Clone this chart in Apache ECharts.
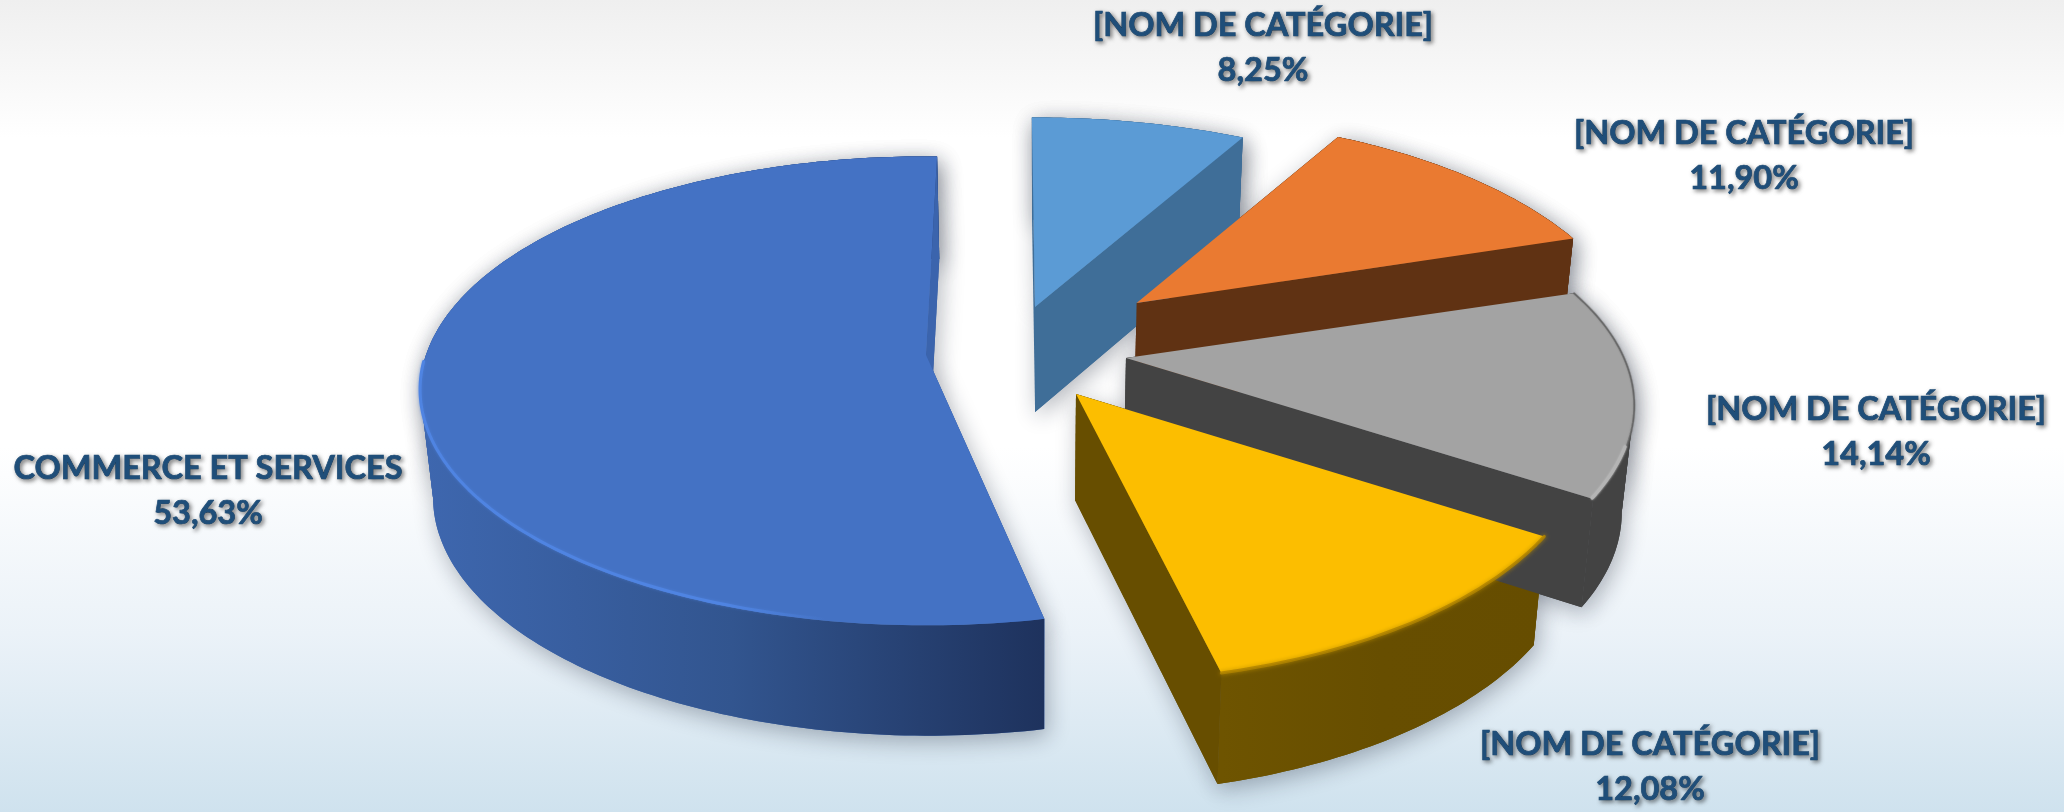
<!DOCTYPE html>
<html lang="fr">
<head>
<meta charset="utf-8">
<title>Répartition</title>
<style>html,body{margin:0;padding:0;background:#fff}#c{width:2064px;height:812px}</style>
<script src="https://cdn.jsdelivr.net/npm/echarts@6/dist/echarts.min.js"></script>
</head>
<body>
<div id="c"></div>
<script>
// ---------- data ----------
const categories = ['COMMERCE ET SERVICES', '[NOM DE CATÉGORIE]', '[NOM DE CATÉGORIE]', '[NOM DE CATÉGORIE]', '[NOM DE CATÉGORIE]'];
const values = [53.63, 8.25, 11.90, 14.14, 12.08];

// ---------- styles ----------
const topColors = ['#4472c4', '#5b9bd5', '#ea7a31', '#a3a3a3', '#fcbe00'];
const cutColors = ['#3b64ad', '#3f6e98', '#603213', '#434343', '#674e00'];
const rimStops = [
  ['#3e67af', '#32558f', '#1e325d'],
  ['#3f6e98', '#3f6e98', '#3f6e98'],
  ['#603213', '#603213', '#603213'],
  ['#434343', '#434343', '#434343'],
  ['#6e5400', '#674e00', '#664d00']
];

// ---------- layout (exploded perspective pie, one frame per slice) ----------
const START_ANGLE = 166.9;
const VANISH_X = 1040;
const frames = [
  { ax: 926,  ay: 355, rx: 500, ry: 229, k: 0.153, twist: 1.5 },
  { ax: 1035, ay: 307, rx: 512, ry: 234, k: 0.235, twist: -0.4 },
  { ax: 1136.6, ay: 303, rx: 490, ry: 230, k: 0.235, twist: 0 },
  { ax: 1126, ay: 358, rx: 498, ry: 228, k: 0.2, twist: 0 },
  { ax: 1076, ay: 394, rx: 505, ry: 240, k: 0.17, twist: -0.8 }
];
const labelCenters = [[208, 491], [1263, 48], [1744, 156], [1876, 432], [1650, 767]];

const total = values.reduce((a, b) => a + b, 0);
function sliceAngles(i) {
  let a = START_ANGLE;
  for (let j = 0; j < i; j++) a += values[j] / total * 360;
  const b = a + values[i] / total * 360;
  return [a + frames[i].twist, b + frames[i].twist];
}
function topPoint(f, deg) {
  const t = deg * Math.PI / 180, u = Math.sin(t), v = -Math.cos(t), s = 1 / (1 - f.k * v);
  return [f.ax + f.rx * u * s, f.ay + f.ry * v * s];
}
function lower(p) { return [VANISH_X + (p[0] - VANISH_X) * 0.979, p[1] * 1.0165 + 100]; }
function arc(f, a, b) {
  const pts = [], n = Math.max(2, Math.ceil(Math.abs(b - a)));
  for (let i = 0; i <= n; i++) pts.push(topPoint(f, a + (b - a) * i / n));
  return pts;
}
function band(pts) { return pts.concat(pts.slice().reverse().map(lower)); }
function faces(i) {
  const f = frames[i], [a, b] = sliceAngles(i), apex = [f.ax, f.ay];
  const top = arc(f, a, b);
  const pA = top[0], pB = top[top.length - 1];
  // the rim band folds at the silhouette: split it there so both halves fill solid
  const cx = f.ax;
  let split = 0, best = -1;
  top.forEach((p, j) => { const d = Math.abs(p[0] - cx); if (d > best) { best = d; split = j; } });
  const rims = (split > 0 && split < top.length - 1)
    ? [band(top.slice(0, split + 1)), band(top.slice(split))]
    : [band(top)];
  const xs = top.map(p => p[0]);
  return {
    f, a, b, top, rims,
    minX: Math.min.apply(null, xs), maxX: Math.max.apply(null, xs),
    topFace: [apex].concat(top),
    cutEnd: [apex, pB, lower(pB), lower(apex)],
    cutStart: [apex, pA, lower(pA), lower(apex)]
  };
}
function horizGlobal(stops, x0, x1) {
  return { type: 'linear', global: true, x: x0, y: 0, x2: x1, y2: 0,
    colorStops: stops.map((c, i) => ({ offset: i / (stops.length - 1), color: c })) };
}
function poly(points, style, z2) {
  return { type: 'polygon', shape: { points }, style, z2: z2 || 0, silent: true };
}

function renderShadow(params) {
  const i = params.dataIndex, F = faces(i);
  const sh = { fill: cutColors[i], shadowBlur: 22, shadowColor: 'rgba(20,30,50,0.33)', shadowOffsetX: 3, shadowOffsetY: 6 };
  return { type: 'group', children: F.rims.map(r => poly(r, sh)).concat([poly(F.cutEnd, sh), poly(F.topFace, sh)]) };
}

function bevels(i, F) {
  const out = [];
  const line = (pts, style) => out.push({ type: 'polyline', shape: { points: pts }, silent: true, z2: 6,
    style: Object.assign({ fill: 'none', lineJoin: 'round', lineCap: 'round' }, style) });
  if (i === 0) {
    line(arc(F.f, 190, 268).map(p => [p[0], p[1] - 1.5]), {
      stroke: { type: 'linear', x: 0, y: 0, x2: 1, y2: 0, colorStops: [
        { offset: 0, color: '#4f84e2' }, { offset: 0.75, color: '#4f84e2' }, { offset: 1, color: 'rgba(79,132,226,0)' }] },
      lineWidth: 3, shadowBlur: 3, shadowColor: 'rgba(79,132,226,0.6)' });
  } else if (i === 3) {
    line(F.top.map(p => [p[0], p[1]]), { stroke: 'rgba(90,90,90,0.6)', lineWidth: 2, shadowBlur: 2, shadowColor: '#777' });
    line(arc(F.f, F.b - 12, F.b).map(p => [p[0] - 1, p[1] - 1]), { stroke: '#b4b4b4', lineWidth: 3, shadowBlur: 2, shadowColor: '#c4c4c4' });
  } else if (i === 4) {
    line(F.top, { stroke: 'rgba(176,132,0,0.85)', lineWidth: 3, shadowBlur: 4, shadowColor: '#b98c00' });
  }
  return out;
}

function renderSlice(params) {
  const i = params.dataIndex, F = faces(i);
  const rimFill = horizGlobal(rimStops[i], F.minX, F.maxX);
  const children = [poly(F.cutStart, { fill: cutColors[i] }, 1)]
    .concat(F.rims.map(r => poly(r, { fill: rimFill }, 2)))
    .concat([poly(F.cutEnd, { fill: cutColors[i] }, 3), poly(F.topFace, { fill: topColors[i] }, 5)])
    .concat(bevels(i, F));
  return { type: 'group', children };
}

function renderLabel(params, api) {
  const i = params.dataIndex, c = labelCenters[i];
  const pct = api.value(0).toFixed(2).replace('.', ',') + '%';
  return {
    type: 'text', silent: true, x: c[0], y: c[1],
    style: {
      text: categories[i] + '\n' + pct,
      align: 'center', verticalAlign: 'middle',
      fontFamily: 'Lato', fontWeight: 700, fontSize: 32.5, lineHeight: 45,
      fill: '#1f4e79', stroke: '#1f4e79', lineWidth: 0.7,
      textShadowColor: 'rgba(0,0,0,0.5)', textShadowBlur: 4, textShadowOffsetX: 2, textShadowOffsetY: 2
    }
  };
}

const chart = echarts.init(document.getElementById('c'), null, { renderer: 'canvas' });
const seriesData = values.map((v, i) => ({ name: categories[i], value: [v] }));
chart.setOption({
  animation: false,
  backgroundColor: { type: 'linear', x: 0, y: 0, x2: 0, y2: 1, colorStops: [
    { offset: 0, color: '#efefef' }, { offset: 0.17, color: '#ffffff' }, { offset: 0.55, color: '#ffffff' },
    { offset: 0.78, color: '#ebf2f8' }, { offset: 1, color: '#cfe2ee' }] },
  tooltip: { show: false },
  series: [
    { type: 'custom', name: 'ombres', coordinateSystem: 'none', z: 1, silent: true, renderItem: renderShadow, data: seriesData },
    { type: 'custom', name: 'parts', coordinateSystem: 'none', z: 2, silent: true, renderItem: renderSlice, data: seriesData },
    { type: 'custom', name: 'étiquettes', coordinateSystem: 'none', z: 3, silent: true, renderItem: renderLabel, data: seriesData }
  ]
});
</script>
</body>
</html>
